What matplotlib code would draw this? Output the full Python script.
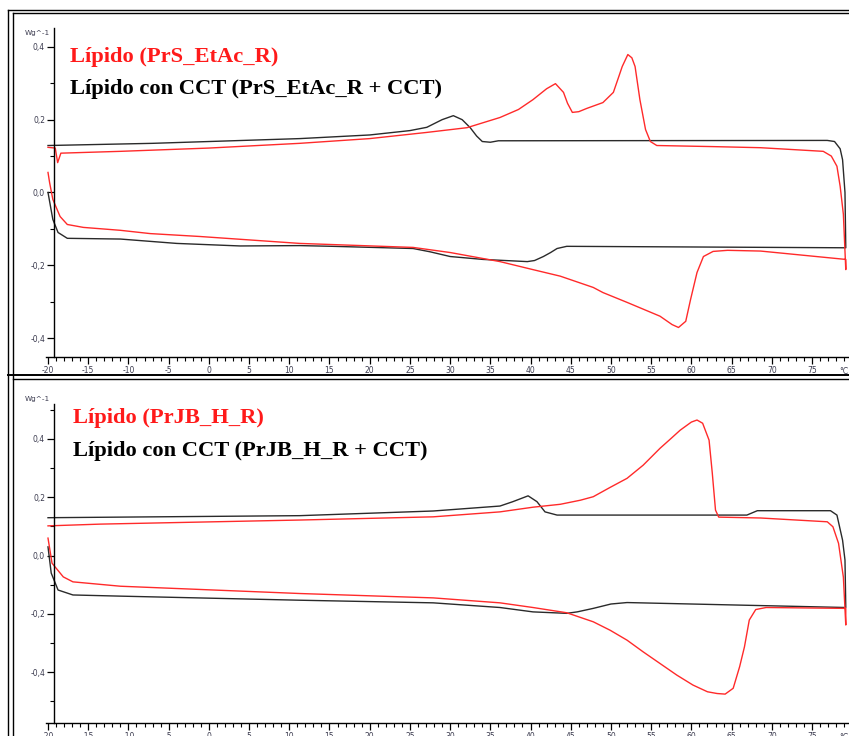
import numpy as np
import matplotlib
matplotlib.use("Agg")
import matplotlib.pyplot as plt
from matplotlib.lines import Line2D
from matplotlib.ticker import MultipleLocator, FixedLocator

# ---- datos leidos del termograma (T en °C, flujo en W/g) ----
# panel superior: PrS_EtAc_R
a_red_heat_T = [-20.0, -19.1, -18.8, -18.4, -11.0, 0.0, 11.3, 20.0, 27.1, 32.1, 36.2, 38.5, 40.3, 42.0,
                43.1, 44.1, 44.6, 45.2, 46.0, 47.0, 49.0, 50.3, 51.0, 51.4, 52.1, 52.6, 53.0, 53.6,
                54.3, 54.9, 55.7, 62.7, 68.6, 76.4, 77.4, 78.1, 78.5, 78.9, 79.2]
a_red_heat_y = [0.124, 0.122, 0.082, 0.108, 0.113, 0.122, 0.135, 0.148, 0.165, 0.178, 0.206, 0.228, 0.255, 0.285,
                0.299, 0.275, 0.245, 0.220, 0.222, 0.231, 0.247, 0.275, 0.320, 0.346, 0.379, 0.370, 0.346, 0.255,
                0.173, 0.140, 0.129, 0.126, 0.123, 0.113, 0.100, 0.072, 0.017, -0.060, -0.212]
a_red_cool_T = [79.2, 68.6, 64.5, 62.7, 61.5, 60.7, 59.9, 59.3, 58.4, 57.6, 56.1, 52.0, 49.0, 47.8, 43.7,
                40.3, 36.2, 30.0, 25.4, 11.3, -1.1, -7.3, -11.0, -15.6, -17.6, -18.5, -19.4, -19.8, -20.0]
a_red_cool_y = [-0.184, -0.161, -0.159, -0.162, -0.176, -0.220, -0.294, -0.354, -0.371, -0.363, -0.340, -0.302, -0.275, -0.261, -0.230,
                -0.212, -0.190, -0.165, -0.151, -0.140, -0.121, -0.113, -0.104, -0.096, -0.088, -0.066, -0.019, 0.027, 0.055]
a_blk_heat_T = [-20.0, -7.0, 11.3, 20.0, 25.0, 27.1, 29.0, 30.4, 31.5, 32.5, 33.3, 34.0, 35.0, 36.0,
                76.9, 77.8, 78.5, 78.8, 79.1, 79.2]
a_blk_heat_y = [0.129, 0.135, 0.148, 0.158, 0.170, 0.179, 0.200, 0.211, 0.200, 0.178, 0.155, 0.140, 0.138, 0.142,
                0.143, 0.140, 0.120, 0.090, 0.000, -0.152]
a_blk_cool_T = [79.2, 44.5, 43.3, 42.5, 41.6, 40.5, 39.6, 34.1, 30.0, 27.5, 25.4, 15.4, 11.3, 3.9,
                -4.0, -11.0, -17.6, -18.75, -19.4, -20.0]
a_blk_cool_y = [-0.152, -0.148, -0.154, -0.165, -0.176, -0.187, -0.190, -0.184, -0.176, -0.163, -0.154, -0.148, -0.146, -0.147,
                -0.140, -0.128, -0.126, -0.110, -0.074, 0.000]

# panel inferior: PrJB_H_R
b_red_heat_T = [-20.0, -13.5, 11.3, 27.9, 36.2, 40.3, 43.7, 46.2, 47.8, 49.9, 52.0, 54.0, 56.1, 57.4, 58.6, 60.0, 60.7,
                61.4, 62.2, 62.6, 63.0, 63.4, 68.6, 76.9, 77.6, 78.3, 78.9, 79.2]
b_red_heat_y = [0.102, 0.108, 0.122, 0.133, 0.150, 0.166, 0.176, 0.190, 0.202, 0.234, 0.265, 0.310, 0.368, 0.400, 0.430, 0.458, 0.465,
                0.454, 0.396, 0.283, 0.156, 0.132, 0.129, 0.116, 0.099, 0.042, -0.074, -0.238]
b_red_cool_T = [79.2, 69.3, 68.0, 67.2, 66.6, 66.0, 65.2, 64.2, 63.2, 62.0, 60.2, 58.2, 56.1, 54.0, 52.0, 49.9, 47.8, 44.5,
                40.3, 36.2, 27.9, 11.3, -11.0, -16.9, -18.1, -19.5, -20.0]
b_red_cool_y = [-0.181, -0.178, -0.185, -0.221, -0.313, -0.381, -0.455, -0.475, -0.473, -0.467, -0.444, -0.410, -0.370, -0.330, -0.290, -0.256, -0.227, -0.196,
                -0.178, -0.162, -0.145, -0.130, -0.105, -0.090, -0.073, -0.026, 0.060]
b_blk_heat_T = [-20.0, 11.3, 27.9, 36.2, 37.8, 39.7, 40.8, 41.8, 43.3, 66.9, 68.2, 77.3, 78.1, 78.8,
                79.1, 79.2]
b_blk_heat_y = [0.130, 0.137, 0.153, 0.170, 0.185, 0.205, 0.185, 0.150, 0.139, 0.139, 0.154, 0.154, 0.139, 0.053,
                -0.015, -0.176]
b_blk_cool_T = [79.2, 52.0, 50.0, 47.8, 45.8, 44.5, 40.3, 36.2, 27.9, 11.3, -11.0, -16.9, -18.75, -19.6, -20.0]
b_blk_cool_y = [-0.178, -0.161, -0.166, -0.181, -0.193, -0.198, -0.193, -0.178, -0.162, -0.153, -0.139, -0.135, -0.118, -0.060, 0.030]

x_ticks = list(range(-20, 80, 5))
x_labels = [str(t) for t in x_ticks]
y_ticks = [-0.4, -0.2, 0.0, 0.2, 0.4]
y_labels = ["-0,4", "-0,2", "0,0", "0,2", "0,4"]

panels = [
    dict(red=(a_red_heat_T + a_red_cool_T, a_red_heat_y + a_red_cool_y),
         blk=(a_blk_heat_T + a_blk_cool_T, a_blk_heat_y + a_blk_cool_y),
         ylim=(-0.452, 0.452), rect=[0.0537, 0.515, 0.9463, 0.447],
         t1="Lípido (PrS_EtAc_R)", t2="Lípido con CCT (PrS_EtAc_R + CCT)",
         tx=70, ty1=57, ty2=89, wg=33),
    dict(red=(b_red_heat_T + b_red_cool_T, b_red_heat_y + b_red_cool_y),
         blk=(b_blk_heat_T + b_blk_cool_T, b_blk_heat_y + b_blk_cool_y),
         ylim=(-0.574, 0.52), rect=[0.0537, 0.0177, 0.9463, 0.4334],
         t1="Lípido (PrJB_H_R)", t2="Lípido con CCT (PrJB_H_R + CCT)",
         tx=73, ty1=418, ty2=451, wg=399),
]

W, H = 849, 736
fig = plt.figure(figsize=(W / 100, H / 100), dpi=100)
tick_col = "#3c3c50"

for p in panels:
    ax = fig.add_axes(p["rect"])
    ax.plot(p["blk"][0], p["blk"][1], color="#2a2a2a", lw=1.0)
    ax.plot(p["red"][0], p["red"][1], color="#ff2a2a", lw=1.0)
    ax.set_xlim(-20.3, 79.6)
    ax.set_ylim(*p["ylim"])
    for s in ["top", "right"]:
        ax.spines[s].set_visible(False)
    ax.spines["left"].set_position(("data", -19.25))
    ax.spines["left"].set_linewidth(1.0)
    ax.spines["bottom"].set_linewidth(1.0)
    ax.patch.set_alpha(0)

    ax.xaxis.set_major_locator(FixedLocator(x_ticks))
    ax.set_xticklabels(x_labels)
    ax.xaxis.set_minor_locator(MultipleLocator(1))
    ax.yaxis.set_major_locator(FixedLocator(y_ticks))
    ax.set_yticklabels(y_labels)
    ax.yaxis.set_minor_locator(MultipleLocator(0.1))
    ax.tick_params(axis="both", which="major", length=5, width=0.9, labelsize=5.5,
                   labelcolor=tick_col, pad=1.5)
    ax.tick_params(axis="both", which="minor", length=3, width=0.8)

    ax.text(79.0, -0.03, "°C", transform=ax.get_xaxis_transform(), ha="center", va="top",
            fontsize=5.5, color=tick_col)

    fig.text(50 / W, 1 - p["wg"] / H, "Wg^-1", ha="right", va="center", fontsize=5.2, color=tick_col)
    fig.text(p["tx"] / W, 1 - p["ty1"] / H, p["t1"], ha="left", va="center", color="#ff1a1a",
             fontsize=16.2, fontweight="bold", family="Liberation Serif")
    fig.text(p["tx"] / W, 1 - p["ty2"] / H, p["t2"], ha="left", va="center", color="black",
             fontsize=16.2, fontweight="bold", family="Liberation Serif")

# marcos dobles de los paneles
def fline(x0, y0, x1, y1, lw=1.0):
    fig.add_artist(Line2D([x0 / W, x1 / W], [1 - y0 / H, 1 - y1 / H],
                          transform=fig.transFigure, color="black", lw=lw))

fline(8, 10, W, 10)
fline(13, 13, W, 13)
fline(8, 10, 8, H)
fline(13, 13, 13, H)
fline(8, 375, W, 375, 1.4)
fline(13, 379, W, 379)

fig.savefig("out.png", dpi=100)
